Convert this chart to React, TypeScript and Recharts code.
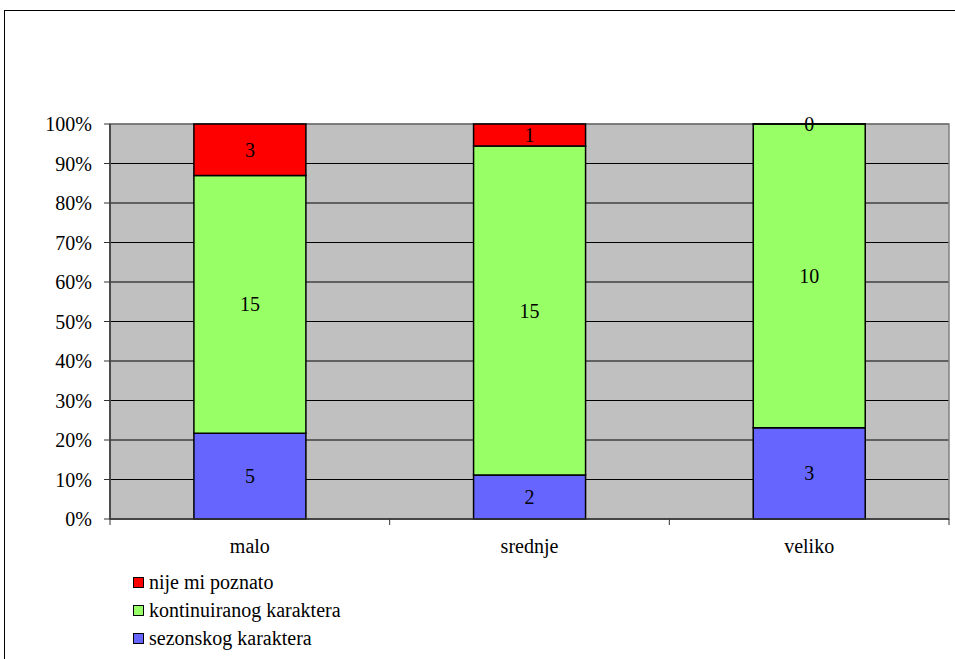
import { BarChart, Bar, XAxis, YAxis, CartesianGrid, LabelList, ReferenceArea } from "recharts";

const categories = ["malo", "srednje", "veliko"];
const sezonskog = [5, 2, 3];
const kontinuiranog = [15, 15, 10];
const nijePoznato = [3, 1, 0];
const yTicks = [0, 0.1, 0.2, 0.3, 0.4, 0.5, 0.6, 0.7, 0.8, 0.9, 1];

const series = [
  { key: "sez", name: "sezonskog karaktera", color: "#6666FF" },
  { key: "kon", name: "kontinuiranog karaktera", color: "#99FF66" },
  { key: "nije", name: "nije mi poznato", color: "#FF0000" },
];

const data = categories.map((c, i) => ({
  name: c,
  sez: sezonskog[i],
  kon: kontinuiranog[i],
  nije: nijePoznato[i],
}));

const W = 955;
const H = 659;
const M = { top: 124, right: 6, bottom: 110, left: 0 };
const Y_W = 110;
const PLOT_W = W - M.left - M.right - Y_W;
const BAND = PLOT_W / categories.length;
const FONT = "Liberation Serif, DejaVu Serif, Noto Serif, serif";

function CatTick(props: any) {
  const { x, y, payload, index } = props;
  const left = x - BAND / 2;
  const right = x + BAND / 2;
  return (
    <g>
      <line x1={left} y1={y} x2={left} y2={y + 6} stroke="#333" />
      {index === categories.length - 1 && <line x1={right} y1={y} x2={right} y2={y + 6} stroke="#333" />}
      <text x={x} y={y + 34} textAnchor="middle" fontSize={20} fontFamily={FONT} fill="#000">
        {payload.value}
      </text>
    </g>
  );
}

function SegLabel(props: any) {
  const { x, y, width, height, value } = props;
  if (value === undefined || value === null) return null;
  return (
    <text x={x + width / 2} y={y + height / 2} dy="0.35em" textAnchor="middle" fontSize={20} fontFamily={FONT} fill="#000">
      {value}
    </text>
  );
}

export default function App() {
  return (
    <div style={{ position: "absolute", left: 0, top: 0, width: W, height: H, overflow: "hidden", background: "#fff", fontFamily: FONT }}>
      <div style={{ position: "absolute", left: 4, top: 10, width: 1000, height: 700, border: "1px solid #000" }} />
      <div style={{ position: "absolute", left: 0, top: 0 }}>
        <BarChart width={W} height={H} data={data} stackOffset="expand" margin={M} barCategoryGap="30%">
          <CartesianGrid vertical={false} fill="#C0C0C0" stroke="#000" strokeOpacity={1} />
          <ReferenceArea y1={0} y2={1} fill="none" stroke="#808080" strokeWidth={1.5} ifOverflow="visible" />
          <XAxis
            dataKey="name"
            tick={<CatTick />}
            tickLine={false}
            tickSize={0}
            tickMargin={0}
            axisLine={{ stroke: "#333", strokeWidth: 1.5 }}
            interval={0}
          />
          <YAxis
            width={Y_W}
            ticks={yTicks}
            domain={[0, 1]}
            tickFormatter={(v: number) => `${Math.round(v * 100)}%`}
            tick={{ fill: "#000", fontSize: 20, fontFamily: FONT }}
            tickLine={{ stroke: "#333" }}
            tickSize={6}
            tickMargin={12}
            axisLine={{ stroke: "#333", strokeWidth: 1.5 }}
            interval={0}
          />
          {series.map((s) => (
            <Bar
              key={s.key}
              dataKey={s.key}
              name={s.name}
              stackId="a"
              fill={s.color}
              stroke="#000"
              strokeWidth={1.5}
              minPointSize={0.01}
              isAnimationActive={false}
            >
              <LabelList dataKey={s.key} content={<SegLabel />} />
            </Bar>
          ))}
        </BarChart>
      </div>
      <div style={{ position: "absolute", left: 133, top: 568, fontSize: 20, color: "#000" }}>
        {[...series].reverse().map((s) => (
          <div key={s.key} style={{ display: "flex", alignItems: "center", height: 28 }}>
            <span style={{ display: "inline-block", width: 9, height: 9, background: s.color, border: "1.5px solid #000", marginRight: 5 }} />
            <span>{s.name}</span>
          </div>
        ))}
      </div>
    </div>
  );
}
